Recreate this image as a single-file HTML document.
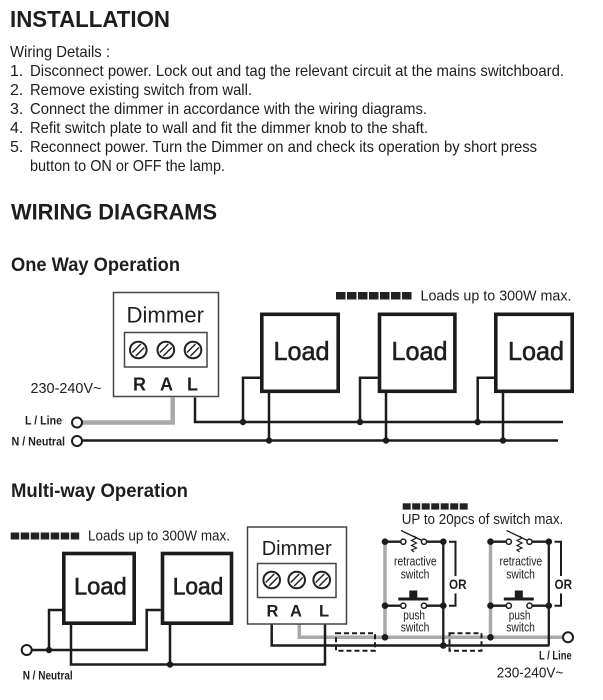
<!DOCTYPE html>
<html><head><meta charset="utf-8"><style>
html,body{margin:0;padding:0;background:#fff;}
svg{display:block;}
text{font-family:"Liberation Sans",Arial,sans-serif;fill:#1e1e1e;}
.b{font-weight:bold;}
.ld{stroke:#1e1e1e;stroke-width:0.6;}
</style></head><body>
<svg width="603" height="700" viewBox="0 0 603 700" xmlns="http://www.w3.org/2000/svg">
<defs>
<g id="screw"><circle r="8.3" fill="#fff" stroke="#222" stroke-width="2"/><line x1="-6" y1="2.5" x2="2.5" y2="-6" stroke="#222" stroke-width="1.5"/><line x1="-2.5" y1="6" x2="6" y2="-2.5" stroke="#222" stroke-width="1.5"/></g>
</defs>
<!-- Header text -->
<text class="b" x="10" y="27" font-size="23.5" textLength="160" lengthAdjust="spacingAndGlyphs">INSTALLATION</text>
<g font-size="16">
<text x="10" y="57" textLength="100" lengthAdjust="spacingAndGlyphs">Wiring Details :</text>
<text x="10" y="76">1.</text><text x="30" y="76" textLength="534" lengthAdjust="spacingAndGlyphs">Disconnect power. Lock out and tag the relevant circuit at the mains switchboard.</text>
<text x="10" y="95">2.</text><text x="30" y="95" textLength="222" lengthAdjust="spacingAndGlyphs">Remove existing switch from wall.</text>
<text x="10" y="114">3.</text><text x="30" y="114" textLength="397" lengthAdjust="spacingAndGlyphs">Connect the dimmer in accordance with the wiring diagrams.</text>
<text x="10" y="133">4.</text><text x="30" y="133" textLength="398" lengthAdjust="spacingAndGlyphs">Refit switch plate to wall and fit the dimmer knob to the shaft.</text>
<text x="10" y="152">5.</text><text x="30" y="152" textLength="507" lengthAdjust="spacingAndGlyphs">Reconnect power. Turn the Dimmer on and check its operation by short press</text>
<text x="30" y="171" textLength="195" lengthAdjust="spacingAndGlyphs">button to ON or OFF the lamp.</text>
</g>
<text class="b" x="11" y="219.5" font-size="22" textLength="206" lengthAdjust="spacingAndGlyphs">WIRING DIAGRAMS</text>
<text class="b" x="11" y="271" font-size="19.5" textLength="169" lengthAdjust="spacingAndGlyphs">One Way Operation</text>
<text class="b" x="11" y="497" font-size="19.5" textLength="177" lengthAdjust="spacingAndGlyphs">Multi-way Operation</text>

<!-- ============ Diagram 1 ============ -->
<g fill="#222">
<rect x="336" y="292" width="9.5" height="7.5"/><rect x="347" y="292" width="9.5" height="7.5"/><rect x="358" y="292" width="9.5" height="7.5"/><rect x="369" y="292" width="9.5" height="7.5"/><rect x="380" y="292" width="9.5" height="7.5"/><rect x="391" y="292" width="9.5" height="7.5"/><rect x="402" y="292" width="9.5" height="7.5"/>
</g>
<text x="420.5" y="300.5" font-size="14.5" textLength="151" lengthAdjust="spacingAndGlyphs">Loads up to 300W max.</text>

<!-- dimmer 1 -->
<rect x="113.5" y="292.5" width="105" height="104" fill="#fff" stroke="#444" stroke-width="1.5"/>
<text x="126.5" y="322.5" font-size="22" textLength="77.5" lengthAdjust="spacingAndGlyphs" fill="#333">Dimmer</text>
<rect x="124.5" y="332.5" width="82.5" height="34.5" fill="#fff" stroke="#444" stroke-width="1.5"/>
<use href="#screw" x="138.3" y="350"/><use href="#screw" x="165.8" y="350"/><use href="#screw" x="193" y="350"/>
<text class="b" x="133" y="390.5" font-size="18">R</text>
<text class="b" x="160" y="390.5" font-size="18">A</text>
<text class="b" x="187" y="390.5" font-size="18">L</text>
<text x="30.5" y="393" font-size="15" textLength="71" lengthAdjust="spacingAndGlyphs" fill="#333">230-240V~</text>

<!-- wires 1 -->
<path d="M172.7 397.5 V422.5 H82" fill="none" stroke="#a9a9a9" stroke-width="4.5"/>
<g fill="none" stroke="#1c1c1c" stroke-width="2.5">
<path d="M195 397.5 V422 H563"/>
<path d="M82 440.5 H558"/>
<path d="M260 377.7 H243 V422"/>
<path d="M269 393 V440.5"/>
<path d="M377.7 377.7 H360 V422"/>
<path d="M386 393 V440.5"/>
<path d="M494 377.7 H477.7 V422"/>
<path d="M503 393 V440.5"/>
</g>
<g fill="#1c1c1c">
<circle cx="243" cy="422" r="3.2"/><circle cx="269" cy="440.5" r="3.2"/>
<circle cx="360" cy="422" r="3.2"/><circle cx="386" cy="440.5" r="3.2"/>
<circle cx="477.7" cy="422" r="3.2"/><circle cx="503" cy="440.5" r="3.2"/>
</g>
<circle cx="77" cy="422.5" r="5" fill="#fff" stroke="#1c1c1c" stroke-width="2"/>
<circle cx="77" cy="441" r="5" fill="#fff" stroke="#1c1c1c" stroke-width="2"/>
<text class="b" x="25" y="424.5" font-size="12" textLength="37" lengthAdjust="spacingAndGlyphs" fill="#333">L / Line</text>
<text class="b" x="11.5" y="445.5" font-size="12" textLength="53.5" lengthAdjust="spacingAndGlyphs" fill="#333">N / Neutral</text>

<!-- loads 1 -->
<g fill="#fff" stroke="#1c1c1c" stroke-width="3.6">
<rect x="261.8" y="314.3" width="76.4" height="77"/>
<rect x="379.5" y="314.3" width="75.4" height="77"/>
<rect x="495.8" y="314.3" width="76.4" height="77"/>
</g>
<g font-size="26">
<text class="ld" x="273.5" y="360" textLength="56" lengthAdjust="spacingAndGlyphs">Load</text>
<text class="ld" x="391.5" y="360" textLength="56" lengthAdjust="spacingAndGlyphs">Load</text>
<text class="ld" x="508" y="360" textLength="56" lengthAdjust="spacingAndGlyphs">Load</text>
</g>

<!-- ============ Diagram 2 ============ -->
<g fill="#222">
<rect x="10.7" y="532.5" width="8.5" height="7"/><rect x="20.7" y="532.5" width="8.5" height="7"/><rect x="30.7" y="532.5" width="8.5" height="7"/><rect x="40.7" y="532.5" width="8.5" height="7"/><rect x="50.7" y="532.5" width="8.5" height="7"/><rect x="60.7" y="532.5" width="8.5" height="7"/><rect x="70.7" y="532.5" width="8.5" height="7"/>
</g>
<text x="88" y="540.5" font-size="14.5" textLength="142" lengthAdjust="spacingAndGlyphs">Loads up to 300W max.</text>

<g fill="#222">
<rect x="402.7" y="503.3" width="8" height="6.3"/><rect x="412.2" y="503.3" width="8" height="6.3"/><rect x="421.7" y="503.3" width="8" height="6.3"/><rect x="431.2" y="503.3" width="8" height="6.3"/><rect x="440.7" y="503.3" width="8" height="6.3"/><rect x="450.2" y="503.3" width="8" height="6.3"/><rect x="459.7" y="503.3" width="8" height="6.3"/>
</g>
<text x="401.7" y="524" font-size="15" textLength="161.6" lengthAdjust="spacingAndGlyphs">UP to 20pcs of switch max.</text>

<!-- wires 2 -->
<path d="M299.3 624 V637.3 H563" fill="none" stroke="#a9a9a9" stroke-width="3.5"/>
<g fill="none" stroke="#1c1c1c" stroke-width="2.5">
<path d="M32 650 H146.7 V610 H160.7"/>
<path d="M62 610 H49 V650"/>
<path d="M71 625 V664.5 H325 V624"/>
<path d="M170 625 V664.5"/>
<path d="M271.7 624 V645.5 H549.3"/>
</g>
<g fill="#1c1c1c">
<circle cx="49" cy="650" r="3.2"/><circle cx="170" cy="664.5" r="3.2"/>
</g>
<circle cx="26.7" cy="650" r="5" fill="#fff" stroke="#1c1c1c" stroke-width="2"/>
<circle cx="568" cy="637.3" r="5" fill="#fff" stroke="#1c1c1c" stroke-width="2"/>
<text class="b" x="22.7" y="679.5" font-size="12" textLength="50" lengthAdjust="spacingAndGlyphs" fill="#333">N / Neutral</text>
<text class="b" x="539" y="659.5" font-size="12" textLength="32.7" lengthAdjust="spacingAndGlyphs" fill="#333">L / Line</text>
<text x="496.7" y="677.5" font-size="15" textLength="66.6" lengthAdjust="spacingAndGlyphs" fill="#333">230-240V~</text>

<!-- dashed boxes -->
<g fill="none" stroke="#1c1c1c" stroke-width="2" stroke-dasharray="5,3">
<rect x="336" y="633.2" width="39" height="17.5"/>
<rect x="449.5" y="633.2" width="32" height="17.5"/>
</g>

<!-- loads 2 -->
<g fill="#fff" stroke="#1c1c1c" stroke-width="3.6">
<rect x="63.8" y="553.5" width="70.4" height="69.7"/>
<rect x="162.5" y="553.5" width="69" height="69.7"/>
</g>
<g font-size="24">
<text class="ld" x="74" y="594.3" textLength="52.7" lengthAdjust="spacingAndGlyphs">Load</text>
<text class="ld" x="172.7" y="594.3" textLength="50.6" lengthAdjust="spacingAndGlyphs">Load</text>
</g>

<!-- dimmer 2 -->
<rect x="247.5" y="527" width="99" height="97" fill="#fff" stroke="#444" stroke-width="1.5"/>
<text x="261.7" y="555" font-size="20" textLength="70" lengthAdjust="spacingAndGlyphs" fill="#333">Dimmer</text>
<rect x="257.5" y="563.5" width="78.5" height="34" fill="#fff" stroke="#444" stroke-width="1.5"/>
<use href="#screw" x="271.7" y="580"/><use href="#screw" x="296.7" y="580"/><use href="#screw" x="321.7" y="580"/>
<text class="b" x="266.5" y="616.5" font-size="16.5">R</text>
<text class="b" x="290" y="616.5" font-size="16.5">A</text>
<text class="b" x="319" y="616.5" font-size="16.5">L</text>

<!-- switch groups -->
<g id="sw">
<path d="M385 541.7 V637.3" stroke="#a9a9a9" stroke-width="3.5" fill="none"/>
<g fill="none" stroke="#1c1c1c" stroke-width="2.3">
<path d="M443.3 541.7 V645.5"/>
<path d="M385 541.7 H400.8 M426.5 541.7 H443.3"/>
<path d="M385 605.7 H400.8 M426.5 605.7 H443.3"/>
</g>
<g fill="#fff" stroke="#1c1c1c" stroke-width="1.5">
<circle cx="403.3" cy="541.7" r="2.6"/><circle cx="424" cy="541.7" r="2.6"/>
<circle cx="403.3" cy="605.7" r="2.6"/><circle cx="424" cy="605.7" r="2.6"/>
</g>
<line x1="401" y1="530.5" x2="422" y2="540.5" stroke="#1c1c1c" stroke-width="1.3"/>
<polyline points="414,536 416.5,538 411.5,540.5 416.5,543 411.5,545.5 416.5,548 411.5,550 414,552" fill="none" stroke="#1c1c1c" stroke-width="1.2"/>
<rect x="398.3" y="597.5" width="30" height="3" fill="#1c1c1c"/>
<rect x="409.3" y="590.5" width="8" height="8" fill="#1c1c1c"/>
<g fill="#1c1c1c">
<circle cx="385" cy="541.7" r="3.3"/><circle cx="385" cy="605.7" r="3.3"/><circle cx="385" cy="637.3" r="3.3"/>
<circle cx="443.3" cy="541.7" r="3.3"/><circle cx="443.3" cy="605.7" r="3.3"/>
</g>
<g font-size="12.5" fill="#333">
<text x="394" y="565.7" textLength="42.7" lengthAdjust="spacingAndGlyphs" fill="#333">retractive</text>
<text x="400.7" y="578.3" textLength="28.7" lengthAdjust="spacingAndGlyphs" fill="#333">switch</text>
<text x="403.3" y="619.3" textLength="21.7" lengthAdjust="spacingAndGlyphs" fill="#333">push</text>
<text x="400.7" y="631.7" textLength="28.7" lengthAdjust="spacingAndGlyphs" fill="#333">switch</text>
</g>
<path d="M449 541.7 H455.5 V576 M455.5 593.5 V605.7 H449" fill="none" stroke="#1c1c1c" stroke-width="2"/>
<text class="b" x="449" y="589" font-size="14" textLength="17.5" lengthAdjust="spacingAndGlyphs">OR</text>
</g>
<use href="#sw" x="105.5" y="0"/>
<circle cx="443.3" cy="645.5" r="3.3" fill="#1c1c1c"/>
</svg>
</body></html>
